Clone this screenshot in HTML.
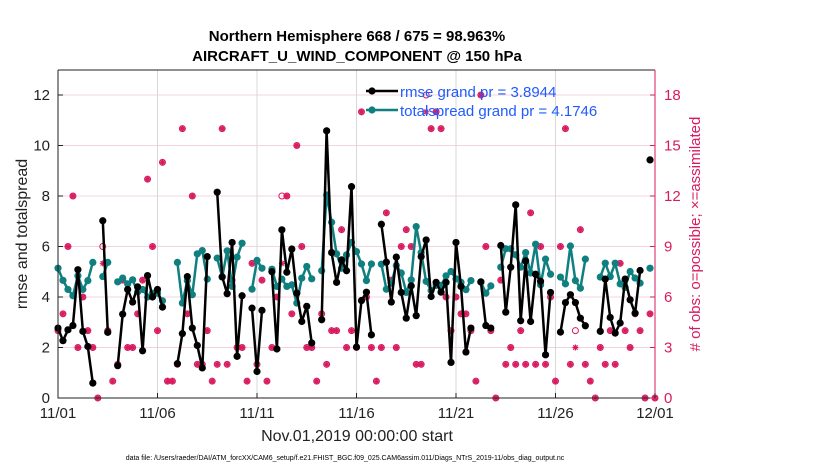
<!DOCTYPE html>
<html><head><meta charset="utf-8"><style>
body{margin:0;background:#fff;}
svg text{font-family:"Liberation Sans",sans-serif;}
</style></head><body>
<svg id="chart" width="830" height="470" viewBox="0 0 830 470" xmlns="http://www.w3.org/2000/svg">
<rect width="830" height="470" fill="#fff"/>
<g id="grid"></g>
<g id="series"></g>
<g id="axes"></g>
</svg>
<script>
const xTickLabels=["11/01","11/06","11/11","11/16","11/21","11/26","12/01"];
const xTickDays=[0,5,10,15,20,25,30];
const yLeftTicks=[0,2,4,6,8,10,12];
const yRightTicks=[0,3,6,9,12,15,18];
const N=null;
const rmse=[2.77,2.27,2.7,2.87,5.08,2.64,2.04,0.59,N,7.02,2.6,N,1.28,3.32,4.3,3.8,4.4,1.87,4.85,4.0,4.3,3.6,N,N,
1.36,2.55,4.81,2.77,2.08,1.19,5.6,N,8.15,4.8,4.13,6.16,1.65,4.05,N,3.56,1.05,3.47,N,5.0,1.94,6.66,4.98,5.9,
4.15,3.03,3.63,2.18,N,3.1,10.58,5.76,4.58,5.47,5.04,8.37,2.02,3.86,4.19,2.5,N,6.88,5.38,3.8,5.58,4.18,3.16,4.44,
3.26,5.6,6.26,4.02,4.58,4.19,4.58,1.41,6.16,4.42,1.82,2.77,N,4.6,2.87,2.77,N,6.04,3.4,5.18,7.65,3.06,5.43,3.03,
4.9,4.62,1.71,4.18,N,2.61,3.78,4.09,3.78,3.16,2.86,N,N,2.64,4.71,3.19,2.57,2.97,4.71,3.89,3.36,5.05,N,9.43,N];
const spread=[5.14,4.66,4.3,4.05,4.84,4.3,4.65,5.37,N,4.81,5.37,N,4.6,4.75,4.52,4.68,4.2,4.3,4.0,4.15,4.15,3.85,N,N,
5.37,3.76,4.65,4.09,5.71,5.84,4.71,N,5.54,4.79,5.83,4.42,5.58,6.13,N,4.31,5.45,5.14,N,5.1,4.42,4.71,4.42,4.48,
3.76,4.75,5.21,4.72,N,5.04,8.04,6.96,5.71,5.14,5.67,6.16,5.8,5.31,4.65,5.31,N,5.3,4.31,4.55,5.25,4.95,4.18,4.68,
6.79,5.76,4.62,4.26,4.46,4.46,4.84,5.01,4.72,4.58,4.29,4.65,N,4.59,4.15,4.44,N,5.18,5.91,5.91,5.67,5.18,5.76,4.95,
6.09,4.48,5.5,4.9,N,4.79,4.52,6.02,4.65,4.35,5.5,N,N,4.79,5.34,4.81,5.34,4.52,4.38,5.01,4.75,4.55,N,5.14,N];
const obsPossible=[4,5,9,12,3,6,4,3,0,9,4,1,2,7,3,3,5,7,13,9,4,14,1,1,2,16,5,12,2,2,4,1,2,16,2,7,3,3,1,8,2,7,1,3,6,12,12,5,
15,9,3,3,1,5,2,4,4,10,3,4,3,17,6,3,1,3,11,7,3,9,10,9,2,2,18,16,17,16,6,4,6,5,5,4,1,18,9,4,0,7,2,3,2,4,2,11,2,9,
2,6,1,9,16,2,4,10,2,1,0,3,2,4,2,8,4,3,5,4,0,5,0];
const obsAssim=[4,5,9,12,3,6,4,3,0,8,4,1,2,7,3,3,5,7,13,9,4,14,1,1,2,16,5,12,2,2,4,1,2,16,2,7,3,3,1,8,2,7,1,3,6,8,12,5,
15,9,3,3,1,5,2,4,4,10,3,4,3,17,6,3,1,3,11,7,3,9,10,9,2,2,17,16,17,16,6,4,6,5,5,4,1,18,9,4,0,7,2,3,2,4,2,11,2,9,
2,6,1,9,16,2,3,10,2,1,0,3,2,4,2,8,4,3,5,4,0,5,0];

const X0=58,X1=655,Y0=398,YT=70;
const xs=d=>X0+(X1-X0)*d/30;
const yl=v=>Y0-(Y0-95)*v/12;
const yr=v=>Y0-(Y0-95)*v/18;
const ns="http://www.w3.org/2000/svg";
function mk(tag,attrs,parent,txt){const e=document.createElementNS(ns,tag);for(const k in attrs)e.setAttribute(k,attrs[k]);if(txt!=null)e.textContent=txt;parent.appendChild(e);return e;}
const grid=document.getElementById('grid'),ser=document.getElementById('series'),ax=document.getElementById('axes');
const PINK="#d81b60";
yLeftTicks.forEach(v=>{if(v>0){const l=mk('line',{x1:X0,x2:X1,y1:yl(v),y2:yl(v),stroke:'#f3d3e0','stroke-width':1},grid);

}});
xTickDays.forEach(d=>{if(d>0&&d<30){const l=mk('line',{x1:xs(d),x2:xs(d),y1:YT,y2:Y0,stroke:'#d8d8d8','stroke-width':1},grid);

}});
obsPossible.forEach((v,i)=>{
 const cx=xs(i*0.25);
 const g=mk('g',{},ser);
 
 
 mk('circle',{cx:cx,cy:yr(v),r:3,fill:'none',stroke:PINK,'stroke-width':1},g);
 const a=obsAssim[i],cy=yr(a);
 mk('path',{d:`M${cx-3},${cy}H${cx+3}M${cx},${cy-3}V${cy+3}M${cx-2.2},${cy-2.2}L${cx+2.2},${cy+2.2}M${cx-2.2},${cy+2.2}L${cx+2.2},${cy-2.2}`,stroke:PINK,'stroke-width':1.2},g);
 if(a===v){mk('circle',{cx:cx,cy:cy,r:3,fill:PINK,'fill-opacity':0.55,stroke:'none'},g);}
});
function drawSeries(arr,color,name){
 let d='';let pen=false;
 arr.forEach((v,i)=>{if(v==null){pen=false;return;}d+=(pen?'L':'M')+xs(i*0.25).toFixed(1)+','+yl(v).toFixed(1);pen=true;});
 const p=mk('path',{d:d,fill:'none',stroke:color,'stroke-width':2.5,'stroke-linejoin':'round'},ser);
 
 
 arr.forEach((v,i)=>{if(v==null)return;const c=mk('circle',{cx:xs(i*0.25),cy:yl(v),r:3.6,fill:color},ser);
 
 });
}
drawSeries(spread,'#0f7f7f','totalspread');
drawSeries(rmse,'#000','rmse');
const box=mk('path',{d:`M${X0},${YT}V${Y0}H${X1}M${X0},${YT}H${X1}`,fill:'none',stroke:'#222','stroke-width':1},ax);


const ra=mk('line',{x1:X1,x2:X1,y1:YT,y2:Y0,stroke:PINK,'stroke-width':1},ax);


yLeftTicks.forEach(v=>{mk('line',{x1:X0,x2:X0+5,y1:yl(v),y2:yl(v),stroke:'#222'},ax);
 const t=mk('text',{x:X0-8,y:yl(v)+5,'text-anchor':'end','font-size':15,fill:'#222'},ax,String(v));
 
 });
yRightTicks.forEach(v=>{mk('line',{x1:X1-5,x2:X1,y1:yr(v),y2:yr(v),stroke:PINK},ax);
 const t=mk('text',{x:X1+9,y:yr(v)+5,'font-size':15,fill:PINK},ax,String(v));
 
 });
xTickDays.forEach((d,i)=>{mk('line',{x1:xs(d),x2:xs(d),y1:Y0,y2:Y0-5,stroke:'#222'},ax);
 const t=mk('text',{x:xs(d),y:Y0+20,'text-anchor':'middle','font-size':15,fill:'#222'},ax,xTickLabels[i]);
 
 });
</script>
<svg style="position:absolute;left:0;top:0" width="830" height="470">
<text x="357" y="41" text-anchor="middle" font-size="15" font-weight="bold" fill="#000" font-family="Liberation Sans, sans-serif">Northern Hemisphere 668 / 675 = 98.963%</text>
<text x="357" y="61" text-anchor="middle" font-size="15" font-weight="bold" fill="#000" font-family="Liberation Sans, sans-serif">AIRCRAFT_U_WIND_COMPONENT @ 150 hPa</text>
<text transform="translate(27,234) rotate(-90)" text-anchor="middle" font-size="16" fill="#222" font-family="Liberation Sans, sans-serif">rmse and totalspread</text>
<text transform="translate(700,234) rotate(-90)" text-anchor="middle" font-size="15" fill="#d81b60" font-family="Liberation Sans, sans-serif"># of obs: o=possible; ×=assimilated</text>
<text x="357" y="441" text-anchor="middle" font-size="16" fill="#222" font-family="Liberation Sans, sans-serif">Nov.01,2019 00:00:00 start</text>
<text x="345" y="460" text-anchor="middle" font-size="7" fill="#000" font-family="Liberation Sans, sans-serif">data file: /Users/raeder/DAI/ATM_forcXX/CAM6_setup/f.e21.FHIST_BGC.f09_025.CAM6assim.011/Diags_NTrS_2019-11/obs_diag_output.nc</text>
<g>
<line x1="366" x2="398" y1="91" y2="91" stroke="#000" stroke-width="2.5"/><circle cx="372" cy="91" r="3.6" fill="#000"/>
<text x="400" y="97" font-size="15" fill="#1f5bff" font-family="Liberation Sans, sans-serif">rmse grand pr = 3.8944</text>
<line x1="366" x2="398" y1="110" y2="110" stroke="#0f7f7f" stroke-width="2.5"/><circle cx="372" cy="110" r="3.6" fill="#0f7f7f"/>
<text x="400" y="116" font-size="15" fill="#1f5bff" font-family="Liberation Sans, sans-serif">totalspread grand pr = 4.1746</text>
</g>
</svg>
</body></html>
